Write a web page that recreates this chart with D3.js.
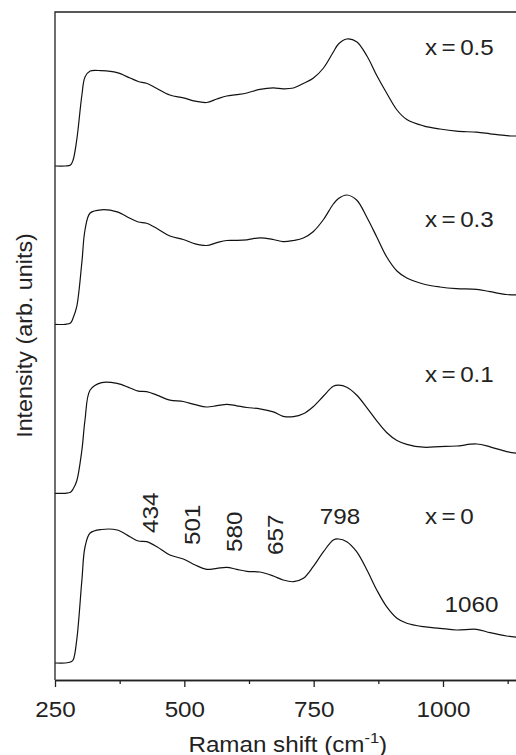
<!DOCTYPE html>
<html>
<head>
<meta charset="utf-8">
<script src="https://cdn.jsdelivr.net/npm/d3@7/dist/d3.min.js"></script>
<style>
  html, body { margin: 0; padding: 0; background: #fff; }
  svg { display: block; }
  text { font-family: "Liberation Sans", Arial, sans-serif; fill: #222; }
</style>
</head>
<body>
<div id="chart"></div>
<script>
// Raman spectra of the four compositions, offset vertically.
const wavenumbers = [250, 270, 280, 285, 292, 302, 308, 318, 340, 370,
  395, 411, 427, 447, 472, 498, 521, 543, 563, 582,
  601, 621, 646, 672, 691, 711, 730, 749, 769, 788,
  798, 814, 833, 853, 872, 891, 911, 930, 962, 994,
  1026, 1065, 1091, 1123, 1145];

const spectrumX0 = [0, 0, 1, 3, 23, 83, 116, 130, 133.5, 133,
  126.3, 122, 121.3, 116.3, 108, 104, 98, 93.7, 94.7, 95.7,
  93.7, 91.7, 91, 87, 83, 81.3, 84.7, 96.3, 111.3, 123,
  124, 121.3, 111.3, 93, 73, 56.3, 44.7, 39.7, 36.3, 34.7,
  33, 33.7, 30.3, 27, 25.7];

const spectrumX01 = [0, 0, 1, 4.3, 12.3, 43.3, 73.3, 103.3, 110.7, 109.9,
  105.3, 102.2, 101.6, 98.2, 93.2, 91.8, 88.6, 86.3, 87.6, 89,
  87.5, 85.8, 84.5, 81.4, 77, 76.6, 79.5, 86.6, 97.3, 107,
  108.1, 106.1, 98.3, 85.5, 72.4, 60.8, 52.8, 49, 46.1, 46.7,
  47.3, 49.3, 46.5, 41.7, 39.8];

const spectrumX03 = [0, 0, 1.3, 6.3, 17.6, 62.3, 94.3, 111.3, 114.5, 112.4,
  106, 102.3, 101, 95.8, 88.3, 84.8, 80.5, 78.8, 81.7, 83.8,
  83.9, 84.5, 86.5, 84.8, 82.6, 83.8, 86.3, 92.6, 104.8, 120.3,
  125.8, 129.3, 124.3, 106.8, 87.3, 67.5, 53.3, 46.3, 40.3, 37.3,
  35.7, 35, 32.6, 29.8, 29.3];

const spectrumX05 = [0, 0, 1, 6, 26, 71, 89, 95, 95.3, 93.3,
  88, 84.5, 82.7, 77.5, 71, 68.2, 64.8, 63.5, 67, 70,
  71.3, 73, 76.7, 78.2, 77.2, 78, 82.5, 87.7, 98, 114,
  122, 127, 124.3, 110, 90.5, 73, 56, 46.5, 40.2, 37,
  34.8, 33.8, 32.2, 30.3, 30];

const compositions = ["x = 0", "x = 0.1", "x = 0.3", "x = 0.5"];
const spectra = [spectrumX0, spectrumX01, spectrumX03, spectrumX05];
const offsets = [17, 186.7, 355.7, 514];

// Band assignments marked on the x = 0 spectrum.
const verticalBands = [434, 501, 580, 657];
const horizontalBands = [798, 1060];

const majorTicks = [250, 500, 750, 1000];
const minorTicks = [375, 625, 875, 1125];

// ---- layout ----
const W = 516, H = 755;
const plotLeft = 55, plotTop = 12, plotBottom = 680, plotRight = 520.6;
const fontSize = 22;
const stretch = 1.1;

const x = d3.scaleLinear().domain([250, 1150]).range([plotLeft, plotRight]);
const y = d3.scaleLinear().domain([0, 668]).range([plotBottom, plotTop]);

const svg = d3.select("#chart").append("svg")
  .attr("width", W).attr("height", H);

// spectra
spectra.forEach((s, k) => {
  const line = d3.line()
    .x((d, i) => x(wavenumbers[i]))
    .y(d => y(d + offsets[k]))
    .curve(d3.curveCatmullRom.alpha(0.5));
  svg.append("path")
    .attr("d", line(s))
    .attr("fill", "none")
    .attr("stroke", "#111")
    .attr("stroke-width", 1.2)
    .attr("stroke-linejoin", "round");
});

// frame: left and top edges
svg.append("path")
  .attr("d", `M${plotRight},${plotTop}H${plotLeft}V${plotBottom}`)
  .attr("fill", "none").attr("stroke", "#222").attr("stroke-width", 1.3);

// bottom axis
const gx = svg.append("g").attr("transform", `translate(0,${plotBottom})`);
gx.append("g").call(d3.axisBottom(x).tickValues(minorTicks).tickSize(4).tickSizeOuter(0).tickFormat(""));
gx.append("g").call(d3.axisBottom(x).tickValues(majorTicks).tickSize(7).tickSizeOuter(0).tickPadding(14.5).tickFormat(d3.format("d")));
gx.selectAll("path.domain").attr("stroke", "#222").attr("stroke-width", 1.3);
gx.selectAll(".tick line").attr("stroke", "#222").attr("stroke-width", 1.3);
gx.selectAll(".tick text")
  .attr("fill", "#222")
  .style("font-size", fontSize + "px")
  .style("font-family", '"Liberation Sans", Arial, sans-serif')
  .attr("transform", `scale(${stretch},1)`);

// helper for stretched text
function label(txt, px, py, anchor, rot) {
  return svg.append("text")
    .attr("transform", `translate(${px},${py}) rotate(${rot || 0}) scale(${stretch},1)`)
    .attr("text-anchor", anchor)
    .style("font-size", fontSize + "px")
    .text(txt);
}

// composition labels
const compLabelAt = { w: 965, I: [156, 298.3, 453.3, 625] };
compositions.forEach((c, k) =>
  label(c, x(compLabelAt.w), y(compLabelAt.I[k]), "start").style("word-spacing", "-2px"));

// band labels (rotated)
const vBandPos = [[449.7, 147], [530, 135], [611, 128], [690, 125]];
verticalBands.forEach((b, i) => {
  label(String(b), x(vBandPos[i][0]), y(vBandPos[i][1]), "start", -90);
});
const hBandPos = [[801, 156], [1055, 68.3]];
horizontalBands.forEach((b, i) => {
  label(String(b), x(hBandPos[i][0]), y(hBandPos[i][1]), "middle");
});

// axis titles
const xt = svg.append("text")
  .attr("transform", `translate(${x(700)},751.5) scale(${stretch},1)`)
  .attr("text-anchor", "middle")
  .style("font-size", fontSize + "px");
xt.append("tspan").text("Raman shift (cm");
xt.append("tspan").attr("dy", -9).style("font-size", "15px").text("-1");
xt.append("tspan").attr("dy", 9).text(")");

svg.append("text")
  .attr("transform", `translate(32.3,${(233 + 438) / 2}) rotate(-90) scale(1.06,1)`)
  .attr("text-anchor", "middle")
  .style("font-size", fontSize + "px")
  .text("Intensity (arb. units)");
</script>
</body>
</html>
